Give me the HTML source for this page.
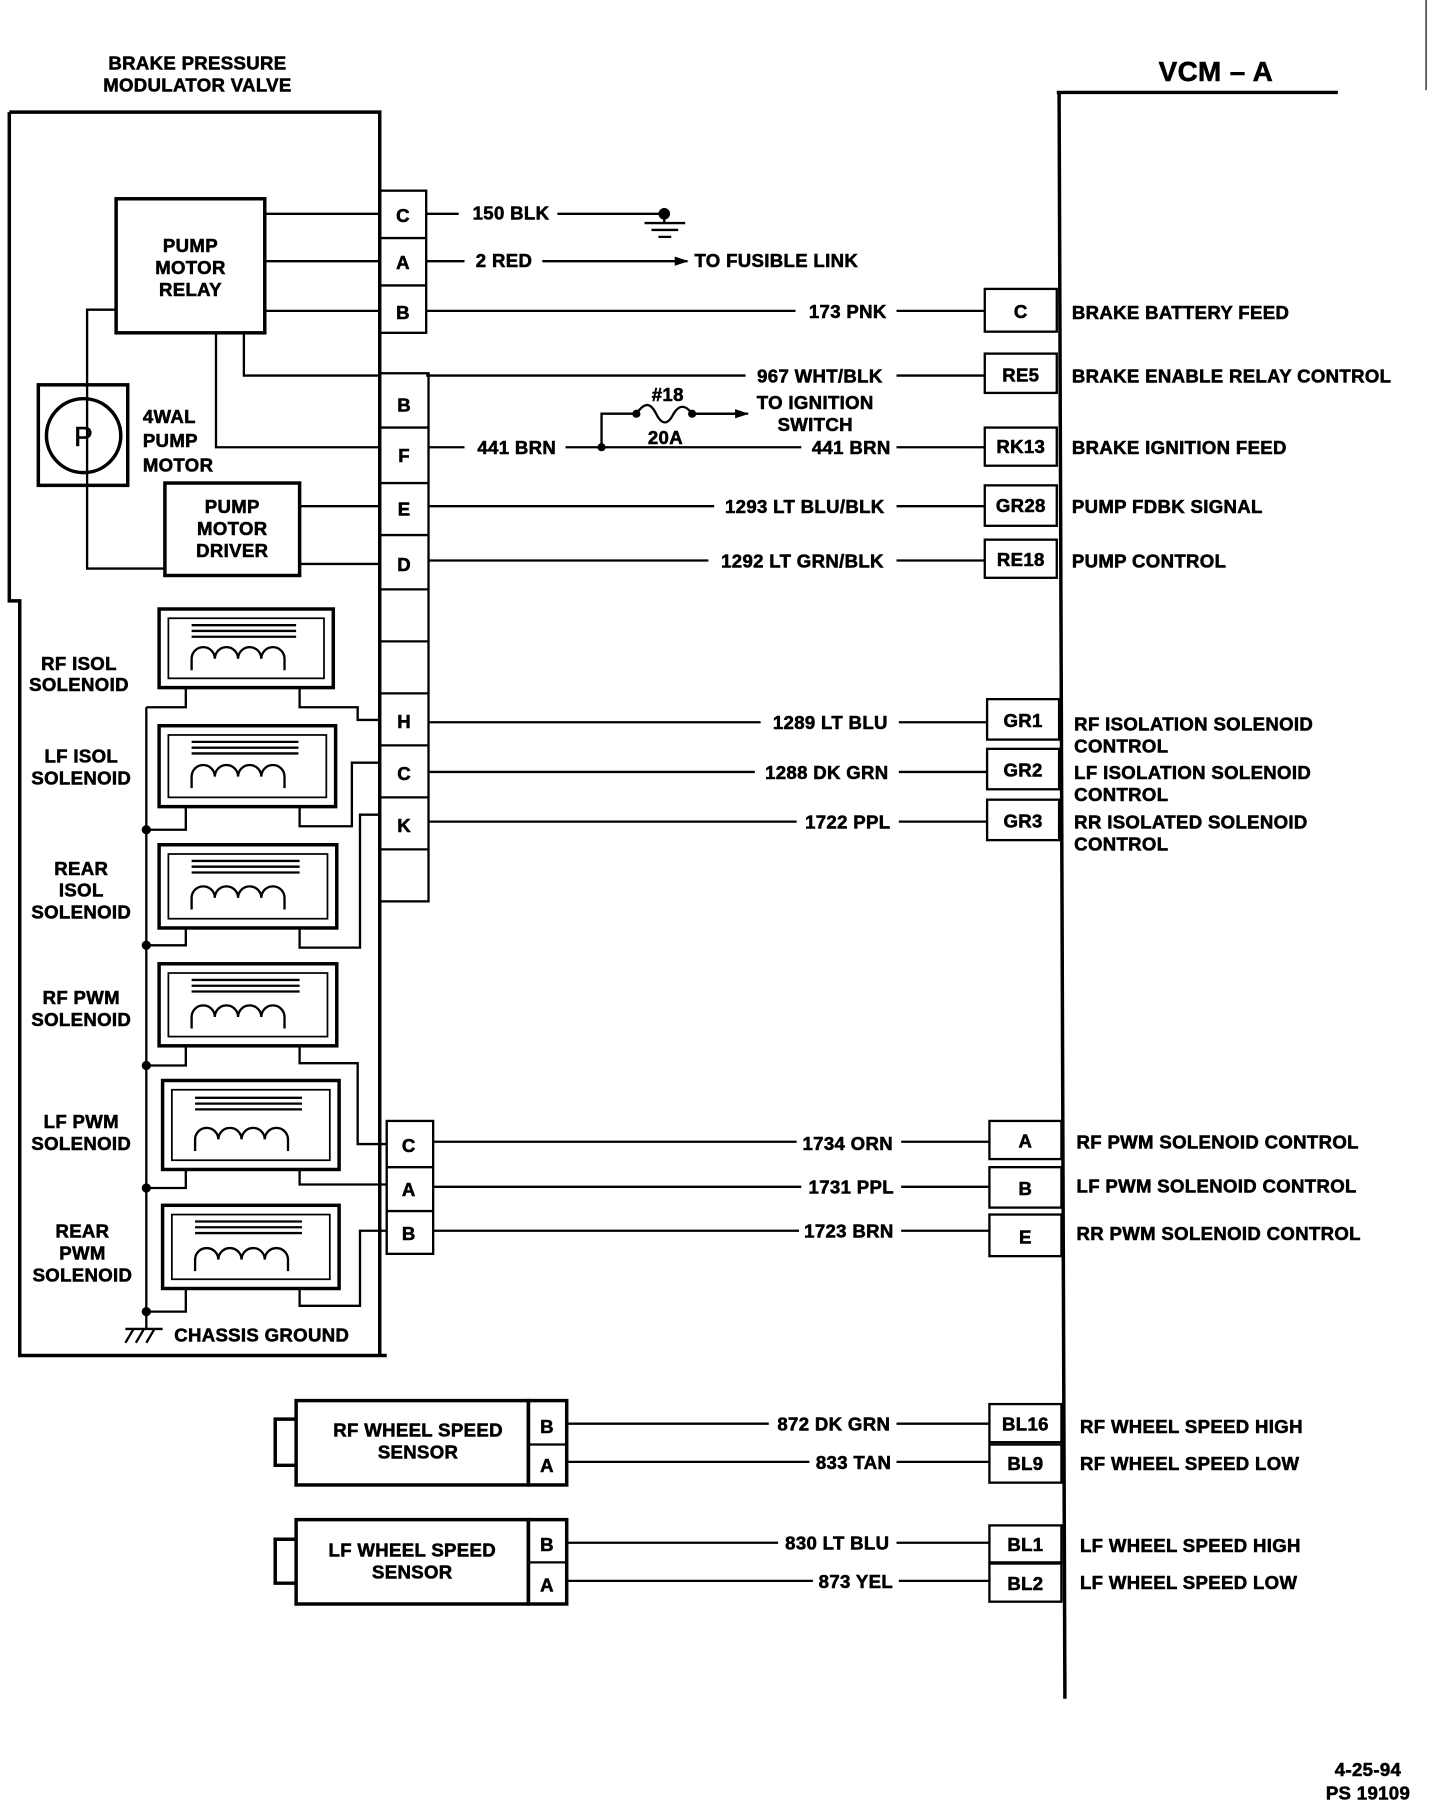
<!DOCTYPE html>
<html><head><meta charset="utf-8"><style>
html,body{margin:0;padding:0;background:#fff;}
svg{display:block}
text{font-family:"Liberation Sans",Arial,sans-serif;font-weight:bold;font-size:16px;fill:#000;stroke:#000;stroke-width:0.5;letter-spacing:0.3px}
</style></head><body>
<svg width="1440" height="1812" viewBox="0 0 1240 1568" preserveAspectRatio="none" xmlns="http://www.w3.org/2000/svg">
<defs>
<marker id="ar" markerWidth="12" markerHeight="8" refX="11" refY="4" orient="auto" markerUnits="userSpaceOnUse"><path d="M0,0 L12,4 L0,8z" fill="#000"/></marker>
</defs>
<g fill="none" stroke="#000" stroke-width="2">
<line x1="910" y1="80" x2="1152" y2="80" stroke-width="3"/>
<line x1="912" y1="80" x2="917" y2="1470" stroke-width="3"/>
<line x1="1228" y1="0" x2="1228" y2="78" stroke-width="1"/>
<path d="M8,97 H327 V1173 M8,97 V520 H17 V1173 H333" stroke-width="3"/>
<rect x="327" y="165" width="40" height="123"/>
<line x1="327" y1="206" x2="367" y2="206"/><line x1="327" y1="247" x2="367" y2="247"/>
<rect x="327" y="323" width="42" height="457"/>
<path d="M327,370H369M327,418H369M327,463H369M327,510H369M327,555H369M327,600H369M327,645H369M327,690H369M327,735H369"/>
<rect x="333" y="970" width="40" height="115"/>
<path d="M333,1010H373M333,1048H373"/>
<line x1="367" y1="185" x2="395" y2="185"/>
<line x1="480" y1="185" x2="572" y2="185"/>
<path d="M572,180V192M555,193H590M561,199H584M567,205H578"/>
<line x1="367" y1="226" x2="400" y2="226"/>
<line x1="467" y1="226" x2="592" y2="226" marker-end="url(#ar)"/>
<line x1="367" y1="269" x2="685" y2="269"/><line x1="772" y1="269" x2="848" y2="269"/>
<rect x="848" y="250" width="62" height="37"/>
<line x1="367" y1="325" x2="642" y2="325"/><line x1="772" y1="325" x2="848" y2="325"/>
<rect x="848" y="306" width="62" height="34"/>
<line x1="369" y1="387" x2="400" y2="387"/><line x1="487" y1="387" x2="690" y2="387"/><line x1="772" y1="387" x2="848" y2="387"/>
<path d="M518,387V358H548 C555,348 560,348 565,358 C570,368 575,368 580,358 C585,350 590,350 596,358H640" />
<line x1="596" y1="358" x2="644" y2="358" marker-end="url(#ar)"/>
<rect x="848" y="370" width="62" height="33"/>
<line x1="369" y1="438" x2="615" y2="438"/><line x1="772" y1="438" x2="848" y2="438"/>
<rect x="848" y="420" width="62" height="35"/>
<line x1="369" y1="485" x2="610" y2="485"/><line x1="772" y1="485" x2="848" y2="485"/>
<rect x="848" y="467" width="62" height="33"/>
<line x1="369" y1="625" x2="655" y2="625"/><line x1="774" y1="625" x2="850" y2="625"/>
<rect x="850" y="605" width="62" height="35"/>
<line x1="369" y1="668" x2="650" y2="668"/><line x1="774" y1="668" x2="850" y2="668"/>
<rect x="850" y="648" width="62" height="35"/>
<line x1="369" y1="711" x2="686" y2="711"/><line x1="774" y1="711" x2="850" y2="711"/>
<rect x="850" y="692" width="62" height="35"/>
<line x1="373" y1="988" x2="686" y2="988"/><line x1="776" y1="988" x2="852" y2="988"/>
<rect x="852" y="970" width="62" height="33"/>
<line x1="373" y1="1027" x2="690" y2="1027"/><line x1="776" y1="1027" x2="852" y2="1027"/>
<rect x="852" y="1010" width="62" height="35"/>
<line x1="373" y1="1065" x2="688" y2="1065"/><line x1="776" y1="1065" x2="852" y2="1065"/>
<rect x="852" y="1051" width="62" height="36"/>
<rect x="100" y="172" width="128" height="116" stroke-width="3"/>
<path d="M228,185H327M228,226H327M228,269H327"/>
<path d="M100,268H75V492H142"/>
<path d="M210,288V325H327M186,288V387H327"/>
<rect x="33" y="333" width="77" height="87" stroke-width="3"/>
<circle cx="72" cy="377" r="32" stroke-width="3"/>
<rect x="142" y="418" width="116" height="80" stroke-width="3"/>
<path d="M258,438H327M258,488H327"/>
<g stroke-width="3">
<rect x="137" y="527" width="150" height="68"/>
<rect x="137" y="628" width="152" height="70"/>
<rect x="137" y="731" width="153" height="72"/>
<rect x="137" y="834" width="153" height="71"/>
<rect x="140" y="935" width="152" height="77"/>
<rect x="140" y="1043" width="152" height="72"/>
</g>
<g stroke-width="1.5">
<rect x="145" y="535" width="134" height="52"/><rect x="145" y="636" width="136" height="54"/>
<rect x="145" y="739" width="137" height="56"/><rect x="145" y="842" width="137" height="55"/>
<rect x="148" y="943" width="136" height="61"/><rect x="148" y="1051" width="136" height="56"/>
</g>
<g stroke-width="2">
<path d="M165,541H255M165,546H255M165,551H255M165,580V570 a10,10 0 0 1 20,0 a10,10 0 0 1 20,0 a10,10 0 0 1 20,0 a10,10 0 0 1 20,0 V580"/>
<path d="M165,642H257M165,647H257M165,652H257M165,682V672 a10,10 0 0 1 20,0 a10,10 0 0 1 20,0 a10,10 0 0 1 20,0 a10,10 0 0 1 20,0 V682"/>
<path d="M165,745H258M165,750H258M165,755H258M165,787V777 a10,10 0 0 1 20,0 a10,10 0 0 1 20,0 a10,10 0 0 1 20,0 a10,10 0 0 1 20,0 V787"/>
<path d="M165,848H258M165,853H258M165,858H258M165,890V880 a10,10 0 0 1 20,0 a10,10 0 0 1 20,0 a10,10 0 0 1 20,0 a10,10 0 0 1 20,0 V890"/>
<path d="M168,950H260M168,955H260M168,960H260M168,996V986 a10,10 0 0 1 20,0 a10,10 0 0 1 20,0 a10,10 0 0 1 20,0 a10,10 0 0 1 20,0 V996"/>
<path d="M168,1057H260M168,1062H260M168,1067H260M168,1100V1090 a10,10 0 0 1 20,0 a10,10 0 0 1 20,0 a10,10 0 0 1 20,0 a10,10 0 0 1 20,0 V1100"/>
</g>
<path d="M126,612V1135"/>
<path d="M160,595V612H126M258,595V612H308V623H327"/>
<path d="M126,718H160V698M258,698V715H303V660H327"/>
<path d="M126,818H160V803M258,803V820H310V705H327"/>
<path d="M126,922H160V905M258,905V920H308V990H333"/>
<path d="M126,1028H160V1012M258,1012V1025H333"/>
<path d="M126,1135H160V1115M258,1115V1130H310V1065H333"/>
<path d="M126,1135V1150H112M115,1150L108,1162M124,1150L117,1162M133,1150L126,1162M108,1150H140"/>
<rect x="255" y="1212" width="200" height="73" stroke-width="3"/>
<rect x="455" y="1212" width="33" height="73" stroke-width="3"/>
<line x1="455" y1="1250" x2="488" y2="1250"/>
<path d="M255,1228H237V1268H255" stroke-width="3"/>
<line x1="488" y1="1232" x2="662" y2="1232"/><line x1="772" y1="1232" x2="852" y2="1232"/>
<line x1="488" y1="1265" x2="697" y2="1265"/><line x1="772" y1="1265" x2="852" y2="1265"/>
<rect x="852" y="1215" width="62" height="33"/><rect x="852" y="1250" width="62" height="33"/>
<rect x="255" y="1315" width="200" height="73" stroke-width="3"/>
<rect x="455" y="1315" width="33" height="73" stroke-width="3"/>
<line x1="455" y1="1352" x2="488" y2="1352"/>
<path d="M255,1332H237V1370H255" stroke-width="3"/>
<line x1="488" y1="1335" x2="670" y2="1335"/><line x1="772" y1="1335" x2="852" y2="1335"/>
<line x1="488" y1="1368" x2="700" y2="1368"/><line x1="774" y1="1368" x2="852" y2="1368"/>
<rect x="852" y="1320" width="62" height="32"/><rect x="852" y="1353" width="62" height="33"/>
</g>
<g fill="#000">
<circle cx="518" cy="387" r="3.5"/><circle cx="548" cy="358" r="3.5"/><circle cx="596" cy="358" r="3.5"/>
<circle cx="572" cy="185" r="5"/>
<circle cx="126" cy="718" r="4"/><circle cx="126" cy="818" r="4"/><circle cx="126" cy="922" r="4"/><circle cx="126" cy="1028" r="4"/><circle cx="126" cy="1135" r="4"/>
</g>
<g text-anchor="middle">
<text x="170" y="60">BRAKE PRESSURE</text><text x="170" y="79">MODULATOR VALVE</text>
<text x="1047" y="70" style="font-size:24px">VCM – A</text>
<text x="347" y="192">C</text><text x="347" y="233">A</text><text x="347" y="276">B</text>
<text x="348" y="356">B</text><text x="348" y="400">F</text><text x="348" y="446">E</text><text x="348" y="494">D</text>
<text x="348" y="630">H</text><text x="348" y="675">C</text><text x="348" y="720">K</text>
<text x="352" y="997">C</text><text x="352" y="1035">A</text><text x="352" y="1073">B</text>
<text x="879" y="275">C</text><text x="879" y="330">RE5</text><text x="879" y="392">RK13</text><text x="879" y="443">GR28</text><text x="879" y="490">RE18</text>
<text x="881" y="629">GR1</text><text x="881" y="672">GR2</text><text x="881" y="716">GR3</text>
<text x="883" y="993">A</text><text x="883" y="1034">B</text><text x="883" y="1076">E</text>
<text x="883" y="1238">BL16</text><text x="883" y="1272">BL9</text><text x="883" y="1342">BL1</text><text x="883" y="1376">BL2</text>
<text x="471" y="1240">B</text><text x="471" y="1274">A</text><text x="471" y="1342">B</text><text x="471" y="1377">A</text>
<text x="360" y="1243">RF WHEEL SPEED</text><text x="360" y="1262">SENSOR</text>
<text x="355" y="1347">LF WHEEL SPEED</text><text x="355" y="1366">SENSOR</text>
<text x="164" y="218">PUMP</text><text x="164" y="237">MOTOR</text><text x="164" y="256">RELAY</text>
<text x="72" y="386" style="font-weight:normal;font-size:24px">P</text>
<text x="200" y="444">PUMP</text><text x="200" y="463">MOTOR</text><text x="200" y="482">DRIVER</text>
<text x="68" y="580">RF ISOL</text><text x="68" y="598">SOLENOID</text>
<text x="70" y="660">LF ISOL</text><text x="70" y="679">SOLENOID</text>
<text x="70" y="757">REAR</text><text x="70" y="776">ISOL</text><text x="70" y="795">SOLENOID</text>
<text x="70" y="869">RF PWM</text><text x="70" y="888">SOLENOID</text>
<text x="70" y="976">LF PWM</text><text x="70" y="995">SOLENOID</text>
<text x="71" y="1071">REAR</text><text x="71" y="1090">PWM</text><text x="71" y="1109">SOLENOID</text>
<text x="440" y="190">150 BLK</text><text x="434" y="231">2 RED</text>
<text x="730" y="275">173 PNK</text><text x="706" y="331">967 WHT/BLK</text>
<text x="445" y="393">441 BRN</text><text x="733" y="393">441 BRN</text>
<text x="575" y="347">#18</text><text x="573" y="384">20A</text>
<text x="702" y="354">TO IGNITION</text><text x="702" y="373">SWITCH</text>
<text x="693" y="444">1293 LT BLU/BLK</text><text x="691" y="491">1292 LT GRN/BLK</text>
<text x="715" y="631">1289 LT BLU</text><text x="712" y="674">1288 DK GRN</text><text x="730" y="717">1722 PPL</text>
<text x="730" y="995">1734 ORN</text><text x="733" y="1033">1731 PPL</text><text x="731" y="1071">1723 BRN</text>
<text x="718" y="1238">872 DK GRN</text><text x="735" y="1271">833 TAN</text>
<text x="721" y="1341">830 LT BLU</text><text x="737" y="1374">873 YEL</text>
<text x="1178" y="1537">4-25-94</text><text x="1178" y="1557">PS 19109</text>
</g>
<g>
<text x="123" y="366">4WAL</text><text x="123" y="387">PUMP</text><text x="123" y="408">MOTOR</text>
<text x="598" y="231">TO FUSIBLE LINK</text>
<text x="923" y="276">BRAKE BATTERY FEED</text>
<text x="923" y="331">BRAKE ENABLE RELAY CONTROL</text>
<text x="923" y="393">BRAKE IGNITION FEED</text>
<text x="923" y="444">PUMP FDBK SIGNAL</text>
<text x="923" y="491">PUMP CONTROL</text>
<text x="925" y="632">RF ISOLATION SOLENOID</text><text x="925" y="651">CONTROL</text>
<text x="925" y="674">LF ISOLATION SOLENOID</text><text x="925" y="693">CONTROL</text>
<text x="925" y="717">RR ISOLATED SOLENOID</text><text x="925" y="736">CONTROL</text>
<text x="927" y="994">RF PWM SOLENOID CONTROL</text>
<text x="927" y="1032">LF PWM SOLENOID CONTROL</text>
<text x="927" y="1073">RR PWM SOLENOID CONTROL</text>
<text x="930" y="1240">RF WHEEL SPEED HIGH</text><text x="930" y="1272">RF WHEEL SPEED LOW</text>
<text x="930" y="1343">LF WHEEL SPEED HIGH</text><text x="930" y="1375">LF WHEEL SPEED LOW</text>
<text x="150" y="1161">CHASSIS GROUND</text>
</g>
</svg>
</body></html>
